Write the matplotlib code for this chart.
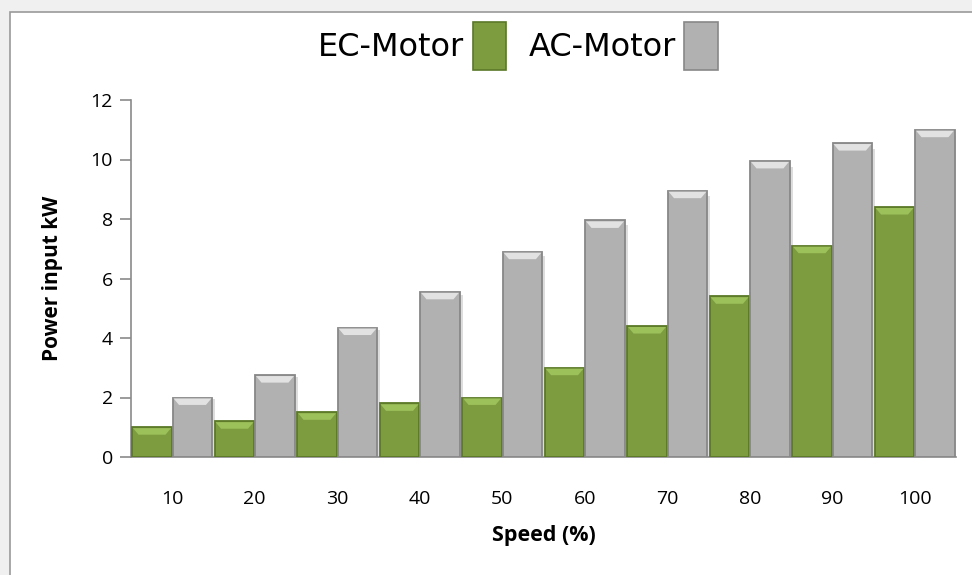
import matplotlib
matplotlib.use("Agg")
import matplotlib.pyplot as plt
from matplotlib.patches import Rectangle, Polygon
import numpy as np

categories = ["10", "20", "30", "40", "50", "60", "70", "80", "90", "100"]
ec_motor = [1.0, 1.2, 1.5, 1.8, 2.0, 3.0, 4.4, 5.4, 7.1, 8.4]
ac_motor = [2.0, 2.75, 4.35, 5.55, 6.9, 7.95, 8.95, 9.95, 10.55, 11.0]
series_names = ["EC-Motor", "AC-Motor"]
yticks = [0, 2, 4, 6, 8, 10, 12]

W, H = 972, 575
fig = plt.figure(figsize=(W / 100, H / 100), dpi=100)
fig.patch.set_facecolor("#F0F0F0")

# chart frame
frame = Rectangle((10 / W, -0.01), 1.0, 1 - 12 / H + 0.01, transform=fig.transFigure,
                  facecolor="white", edgecolor="#9A9A9A", linewidth=1.2, zorder=-5)
fig.patches.append(frame)

ax = fig.add_axes([131 / W, 1 - 457 / H, (956 - 131) / W, (457 - 100) / H])
ax.set_facecolor("none")

x = np.arange(len(categories))
bw = 0.48
styles = [
    dict(face="#7D9C40", edge="#5B7828", top="#9CC05A"),
    dict(face="#B1B1B1", edge="#878787", top="#E2E2E2"),
]

def draw_bars(xs, vals, st):
    bars = ax.bar(xs, vals, width=bw, color=st["face"], edgecolor=st["edge"],
                  linewidth=1.3, zorder=3)
    for b in bars:
        x0 = b.get_x(); w = b.get_width(); h = b.get_height()
        bev = min(0.25, h * 0.3)
        inset = w * 0.16
        poly = Polygon([[x0 + 0.01, h - 0.03], [x0 + w - 0.01, h - 0.03],
                        [x0 + w - inset, h - bev], [x0 + inset, h - bev]],
                       closed=True, facecolor=st["top"], edgecolor="none", zorder=4)
        ax.add_patch(poly)
        sh = Rectangle((x0 + w, 0), 0.035, h * 0.98, facecolor="#DDDDDD", edgecolor="none", zorder=2)
        ax.add_patch(sh)
    return bars

b1 = draw_bars(x - bw / 2 - 0.005, ec_motor, styles[0])
b2 = draw_bars(x + bw / 2 + 0.005, ac_motor, styles[1])

ax.set_xlim(-0.5, len(categories) - 0.5)
ax.set_ylim(0, 12)
ax.set_yticks(yticks)
ax.set_yticklabels([str(t) for t in yticks], fontsize=14, family="Open Sans")
ax.set_xticks(x)
ax.set_xticklabels(categories, fontsize=14, family="Open Sans")
ax.tick_params(axis="x", length=0, pad=24)
ax.tick_params(axis="y", length=8, width=1.2, color="#8A8A8A", pad=5, direction="out")

for s in ["top", "right"]:
    ax.spines[s].set_visible(False)
ax.spines["left"].set_color("#8A8A8A")
ax.spines["left"].set_linewidth(1.2)
ax.spines["bottom"].set_color("#8A8A8A")
ax.spines["bottom"].set_linewidth(1.2)

ax.set_xlabel("Speed (%)", fontsize=15.5, fontweight="bold", family="Open Sans", labelpad=12)
ax.set_ylabel("Power input kW", fontsize=15, fontweight="bold", family="Open Sans", labelpad=20)

h1 = Rectangle((0, 0), 1, 1, facecolor=styles[0]["face"], edgecolor=styles[0]["edge"], linewidth=1.2)
h2 = Rectangle((0, 0), 1, 1, facecolor=styles[1]["face"], edgecolor=styles[1]["edge"], linewidth=1.2)
fig.legend([h1, h2], series_names, loc="center", bbox_to_anchor=(518 / W, 1 - 46 / H),
           ncol=2, frameon=False, markerfirst=False, fontsize=23, handlelength=1.06,
           handleheight=1.95, handletextpad=0.25, columnspacing=0.69)

fig.savefig("out.png", dpi=100, facecolor=fig.get_facecolor())
